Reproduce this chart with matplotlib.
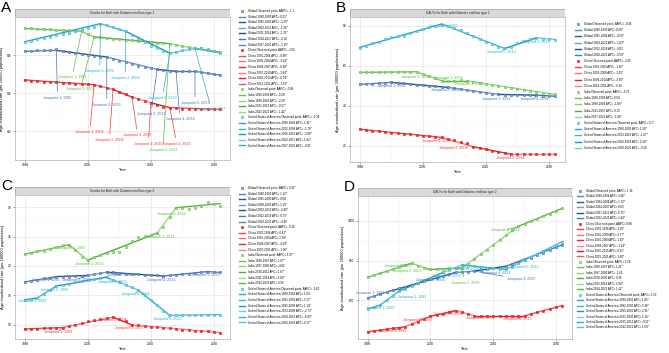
import matplotlib.pyplot as plt
from matplotlib.lines import Line2D
from matplotlib.patches import Rectangle
import numpy as np

plt.rcParams['font.family'] = ['Liberation Sans', 'DejaVu Sans']

W, H = 669, 353
years = np.arange(1990, 2022)

# ---------------- A: deaths, type 1 ----------------
a_global = [0.84,0.84,0.85,0.85,0.85,0.86,0.84,0.83,0.82,0.81,0.80,0.79,0.78,0.78,0.76,0.74,
            0.73,0.71,0.69,0.68,0.66,0.65,0.64,0.63,0.63,0.63,0.63,0.63,0.62,0.61,0.60,0.59]
a_china = [0.54,0.53,0.53,0.52,0.52,0.52,0.51,0.51,0.50,0.50,0.50,0.49,0.48,0.46,0.44,0.41,
           0.39,0.36,0.34,0.32,0.30,0.28,0.26,0.25,0.25,0.24,0.24,0.24,0.23,0.23,0.23,0.23]
a_india = [1.08,1.08,1.07,1.07,1.07,1.06,1.06,1.06,1.05,1.05,1.02,0.99,0.99,0.98,0.97,0.97,
           0.96,0.96,0.95,0.95,0.94,0.93,0.93,0.92,0.91,0.90,0.89,0.87,0.87,0.86,0.84,0.82]
a_usa = [0.94,0.95,0.97,0.98,0.99,1.01,1.02,1.03,1.05,1.07,1.08,1.10,1.13,1.12,1.10,1.07,
         1.05,1.01,0.97,0.94,0.90,0.87,0.84,0.82,0.83,0.85,0.86,0.88,0.87,0.85,0.84,0.83]
a_global_jp = [1990,1995,2003,2011,2014,2017,2021]
a_global_fit = [0.84,0.85,0.78,0.65,0.63,0.63,0.59]
a_china_jp = [1990,2001,2004,2007,2010,2013,2021]
a_china_fit = [0.54,0.49,0.44,0.36,0.30,0.25,0.23]
a_india_jp = [1990,1999,2001,2013,2021]
a_india_fit = [1.08,1.05,0.99,0.92,0.82]
a_usa_jp = [1990,2002,2006,2013,2017,2021]
a_usa_fit = [0.94,1.13,1.05,0.82,0.87,0.83]
a_leg = {
    'Global': ["Global Observed point, AAPC= -1.1", "Global 1990-1995 APC= 0.21*",
               "Global 1995-2003 APC= -1.20*", "Global 2003-2011 APC= -2.35*",
               "Global 2011-2014 APC= -1.31*", "Global 2014-2017 APC= -0.14",
               "Global 2017-2021 APC= -1.19*"],
    'China': ["China Observed point, AAPC= -2.92", "China 1990-2001 APC= -0.88*",
              "China 2001-2004 APC= -3.24*", "China 2004-2007 APC= -6.88*",
              "China 2007-2010 APC= -3.64*", "China 2010-2013 APC= -6.04*",
              "China 2013-2021 APC= -1.53*"],
    'India': ["India Observed point, AAPC= -0.86", "India 1990-1999 APC= -0.20",
              "India 1999-2001 APC= -2.29", "India 2001-2013 APC= -0.57*",
              "India 2013-2021 APC= -1.42*"],
    'USA': ["United States of America Observed point, AAPC= -0.39",
            "United States of America 1990-2002 APC= 1.41*",
            "United States of America 2002-2006 APC= -1.76*",
            "United States of America 2006-2013 APC= -3.08*",
            "United States of America 2013-2017 APC= 1.92*",
            "United States of America 2017-2021 APC= -0.85"]}
a_lab = {'Global': [(1995.2,0.355),(2003.0,0.28),(2010.0,0.18),(2014.6,0.13),(2017.0,0.30)],
         'China': [(2000.3,-0.01),(2003.4,-0.09),(2007.9,-0.04),(2009.6,-0.13),(2014.1,-0.13)],
         'India': [(1997.5,0.57),(1998.8,0.44),(2011.9,-0.19)],
         'USA': [(2001.9,0.63),(2006.0,0.56),(2011.8,0.35),(2019.6,0.23)]}

# ---------------- B: DALYs, type 1 ----------------
b_global = [50.7,50.9,51.1,51.3,51.5,51.7,51.4,51.2,50.9,50.6,50.4,50.1,49.9,49.6,49.2,48.8,
            48.3,47.9,47.5,47.1,46.5,46.1,45.7,45.6,45.6,45.5,45.5,45.4,45.3,45.1,44.9,44.8]
b_china = [28.3,27.9,27.6,27.3,26.9,26.6,26.3,26.0,25.7,25.4,25.1,24.8,24.5,24.2,23.5,22.8,
           22.0,21.2,19.6,19.0,18.3,17.6,17.0,16.4,15.8,15.8,15.7,15.7,15.7,15.7,15.7,15.7]
b_india = [56.7,56.7,56.8,56.8,56.8,56.9,56.9,57.0,56.9,57.0,56.0,55.0,53.8,52.5,52.6,52.6,
           52.7,52.6,52.0,51.5,51.0,50.5,50.0,49.5,48.9,48.4,47.9,47.4,46.9,46.5,46.1,45.7]
b_usa = [69.0,70.0,71.5,72.0,73.5,74.5,75.0,75.0,76.5,77.5,78.5,79.5,80.0,80.5,80.0,79.0,
         78.0,76.5,75.0,73.5,72.0,71.0,69.5,69.0,69.5,71.5,72.5,73.5,74.0,73.5,73.5,73.0]
b_global_jp = [1990,1995,2004,2012,2018,2021]
b_global_fit = [50.7,51.7,49.2,45.7,45.3,44.8]
b_china_jp = [1990,2003,2008,2014,2021]
b_china_fit = [28.3,24.2,19.5,15.8,15.7]
b_india_jp = [1990,1999,2003,2007,2021]
b_india_fit = [56.7,57.0,52.5,52.5,45.7]
b_usa_jp = [1990,2003,2013,2018,2021]
b_usa_fit = [69.2,80.9,68.6,74.0,73.2]
b_leg = {
    'Global': ["Global Observed point, AAPC= -0.45", "Global 1990-1995 APC= 0.30*",
               "Global 1995-2004 APC= -0.50*", "Global 2004-2012 APC= -1.03*",
               "Global 2012-2018 APC= -0.03", "Global 2018-2021 APC= -0.50*"],
    'China': ["China Observed point, AAPC= -1.95", "China 1990-2003 APC= -1.16*",
              "China 2003-2008 APC= -3.05*", "China 2008-2014 APC= -3.50*",
              "China 2014-2021 APC= -0.16"],
    'India': ["India Observed point, AAPC= -0.71", "India 1990-1999 APC= 0.04",
              "India 1999-2003 APC= -1.89*", "India 2003-2007 APC= 0.13",
              "India 2007-2021 APC= -1.06*"],
    'USA': ["United States of America Observed point, AAPC= 0.1*",
            "United States of America 1990-2003 APC= 1.20*",
            "United States of America 2003-2013 APC= -1.67*",
            "United States of America 2013-2018 APC= 1.50*",
            "United States of America 2018-2021 APC= -0.39"]}
b_lab = {'Global': [(1995.0,49.9),(2003.6,47.9),(2011.7,43.2),(2017.7,43.2)],
         'China': [(2002.2,22.4),(2004.8,18.7),(2013.8,13.9)],
         'India': [(1998.7,54.5),(2004.0,54.0),(2007.3,51.0)],
         'USA': [(2003.3,79.8),(2012.4,67.0),(2017.8,72.0)]}

# ---------------- C: deaths, type 2 ----------------
c_global = [17.3,17.5,17.7,17.9,18.0,18.2,18.2,18.2,18.3,18.3,18.4,18.6,18.8,18.95,18.9,18.8,
            18.7,18.6,18.6,18.5,18.4,18.4,18.3,18.4,18.5,18.6,18.7,18.8,18.9,19.05,19.0,18.9]
c_china = [9.3,9.3,9.35,9.4,9.45,9.5,9.55,9.8,10.0,10.3,10.6,10.8,11.0,11.2,11.3,11.0,
           10.6,10.0,9.9,9.8,9.7,9.6,9.5,9.4,9.3,9.2,9.1,9.0,8.95,8.9,8.8,8.7]
c_india = [22.0,22.2,22.6,22.5,22.9,23.2,23.6,23.6,22.8,21.6,21.0,21.5,21.8,22.2,22.3,22.3,
           23.2,24.3,25.0,25.1,25.3,25.6,26.7,28.3,29.9,29.8,29.6,29.8,30.2,30.9,30.6,30.2]
c_usa = [14.25,14.4,14.6,15.3,16.0,16.6,16.8,17.0,17.2,17.4,17.6,17.8,17.9,18.1,17.6,17.2,
         16.8,16.4,15.9,15.0,14.2,13.3,12.4,11.6,11.6,11.65,11.65,11.7,11.7,11.7,11.75,11.75]
c_global_jp = [1990,1995,2000,2003,2012,2019,2021]
c_global_fit = [17.3,18.2,18.4,18.95,18.3,19.05,18.9]
c_china_jp = [1990,1996,2004,2007,2021]
c_china_fit = [9.3,9.55,11.3,10.0,8.7]
c_india_jp = [1990,1997,2000,2011,2014,2021]
c_india_fit = [22.0,23.6,21.0,25.6,29.9,30.6]
c_usa_jp = [1990,1992,1995,2003,2008,2013,2021]
c_usa_fit = [14.25,14.6,16.6,18.1,15.9,11.6,11.75]
c_leg = {
    'Global': ["Global Observed point, AAPC= 0.31*", "Global 1990-1995 APC= 1.12*",
               "Global 1995-2000 APC= 0.04", "Global 2000-2003 APC= 1.19*",
               "Global 2003-2012 APC= -0.40*", "Global 2012-2019 APC= 0.73*",
               "Global 2019-2021 APC= -0.49"],
    'China': ["China Observed point, AAPC= -0.16", "China 1990-1996 APC= 0.61*",
              "China 1996-2004 APC= 2.38*", "China 2004-2007 APC= -4.09*",
              "China 2007-2021 APC= -1.06*"],
    'India': ["India Observed point, AAPC= 1.07*", "India 1990-1997 APC= 1.07*",
              "India 1997-2000 APC= -4.02", "India 2000-2011 APC= 1.67*",
              "India 2011-2014 APC= 6.60*", "India 2014-2021 APC= 0.56"],
    'USA': ["United States of America Observed point, AAPC= -0.62",
            "United States of America 1990-1992 APC= 1.60",
            "United States of America 1992-1995 APC= 5.17*",
            "United States of America 1995-2003 APC= 1.14*",
            "United States of America 2003-2008 APC= -2.73*",
            "United States of America 2008-2013 APC= -6.09*",
            "United States of America 2013-2021 APC= 0.17*"]}
c_lab = {'Global': [(1993.2,17.6),(1998.1,17.7),(2005.3,18.4),(2011.7,17.6),(2018.6,18.5)],
         'China': [(1995.3,8.85),(2003.9,10.85),(2006.6,9.45)],
         'India': [(1997.4,23.1),(2000.2,20.3),(2011.5,25.0),(2013.3,28.9)],
         'USA': [(1991.2,14.1),(1994.6,16.0),(2003.9,17.35),(2007.5,15.2),(2012.6,11.0)]}

# ---------------- D: DALYs, type 2 ----------------
d_global = [612,622,631,640,650,660,669,678,687,696,705,714,722,731,740,742,
            744,747,752,756,761,766,771,782,793,803,814,826,840,853,866,879]
d_china = [442,446,450,455,459,463,468,480,493,506,520,527,534,541,549,540,
           531,523,523,523,523,523,523,523,523,523,532,540,549,557,566,574]
d_india = [716,726,736,746,756,766,776,786,775,765,755,757,759,761,762,763,
           785,808,831,855,880,905,930,955,972,985,998,1011,1023,1036,1049,1062]
d_usa = [557,567,577,600,623,647,659,672,685,698,712,726,740,753,765,778,
         774,771,768,764,761,758,755,770,786,801,817,832,848,863,879,895]
d_global_jp = [1990,1994,2004,2007,2012,2021]
d_global_fit = [612,650,740,747,771,879]
d_china_jp = [1990,1996,2000,2004,2007,2015,2021]
d_china_fit = [442,468,520,549,523,523,574]
d_india_jp = [1990,1997,2000,2005,2014,2021]
d_india_fit = [716,786,755,763,972,1062]
d_usa_jp = [1990,1992,1995,2002,2005,2012,2021]
d_usa_fit = [557,577,647,740,778,755,895]
d_leg = {
    'Global': ["Global Observed point, AAPC= 1.16", "Global 1990-1994 APC= 1.06*",
               "Global 1994-2004 APC= 1.13*", "Global 2004-2007 APC= 0.65",
               "Global 2007-2012 APC= 0.75*", "Global 2012-2021 APC= 1.44*"],
    'China': ["China Observed point, AAPC= 0.88", "China 1990-1996 APC= 1.05*",
              "China 1996-2000 APC= 2.77*", "China 2000-2004 APC= 1.20*",
              "China 2004-2007 APC= -1.24*", "China 2007-2015 APC= 0.11*",
              "China 2015-2021 APC= 1.60*"],
    'India': ["India Observed point, AAPC= 1.29", "India 1990-1997 APC= 1.21*",
              "India 1997-2000 APC= -1.61", "India 2000-2005 APC= 0.36",
              "India 2005-2014 APC= 2.84*", "India 2014-2021 APC= 1.42*"],
    'USA': ["United States of America Observed point, AAPC= 1.53",
            "United States of America 1990-1992 APC= 1.85*",
            "United States of America 1992-1995 APC= 5.38*",
            "United States of America 1995-2002 APC= 2.31*",
            "United States of America 2002-2005 APC= 1.16*",
            "United States of America 2005-2012 APC= -0.51*",
            "United States of America 2012-2021 APC= 1.60*"]}
d_lab = {'Global': [(1990.4,639),(2000.0,700),(2014.5,705),(2010.5,735)],
         'China': [(1993.9,448),(1997.9,499),(2002.9,530),(2008.0,510),(2013.8,504)],
         'India': [(1994.9,774),(1996.3,747),(2005.5,688),(2012.0,953)],
         'USA': [(1992.0,561),(1997.1,619),(2002.5,722),(2006.0,758),(2014.9,766)]}

# colours
seg_cols = {'Global': ['#5B86C5', '#2A5298', '#7596CC', '#24508F', '#4A77BB', '#5A84C4'],
            'China': ['#F0463F', '#FF6B6B', '#E8262A', '#FF8080', '#E01E25', '#F25555'],
            'India': ['#6CC24A', '#8BD16A', '#4CAF3A', '#9BD88A', '#5BB840'],
            'USA': ['#21A9C8', '#3FB8D4', '#1597B8', '#6FCBE0', '#2BB0CC', '#52C0DA']}
pt_face = {'Global': '#8AA6D6', 'China': '#E8262A', 'India': '#A6DC8C', 'USA': '#95D6E8'}
pt_edge = {'Global': '#3D6AB0', 'China': '#D01F24', 'India': '#5DBB46', 'USA': '#2BB0CC'}
lab_col = {'Global': '#4A74B8', 'China': '#EE3B3B', 'India': '#5DBB46', 'USA': '#2BB0CC'}


def box(l, t, r, b):
    return [l / W, 1 - b / H, (r - l) / W, (b - t) / H]


def panel(fig, letter, ax_px, title, data, ylim, yticks, ytl, leg_xy, leg_sp):
    l, t, r, b = ax_px
    ax = fig.add_axes(box(l, t, r, b))
    st = fig.add_axes(box(l, t - 8, r, t))
    st.add_patch(Rectangle((0, 0), 1, 1, transform=st.transAxes, fc='#D9D9D9', ec='#9A9A9A', lw=0.5))
    st.set_axis_off()
    st.text(0.5, 0.5, title, ha='center', va='center', fontsize=2.3, color='#222222')
    fig.text((l - 14) / W, 1 - (t - 16) / H, letter, fontsize=11, va='top', ha='left')

    handles, labels = [], []
    for name in ['Global', 'China', 'India', 'USA']:
        obs, jp, fit, leg, lab = data[name]
        ax.plot(years, obs, 's', ms=2.0, mfc=pt_face[name], mec=pt_edge[name], mew=0.4, zorder=3)
        cols = seg_cols[name]
        handles.append(Line2D([], [], marker='s', ls='none', ms=2.0, mfc=pt_face[name],
                              mec=pt_edge[name], mew=0.4))
        for i in range(len(jp) - 1):
            ax.plot(jp[i:i + 2], fit[i:i + 2], '-', color=cols[i % len(cols)], lw=1.0, zorder=2)
            handles.append(Line2D([], [], color=cols[i % len(cols)], lw=1.0))
        labels += leg
        for k, (lx, ly) in enumerate(lab):
            ax.annotate('Joinpoint %d: %d' % (k + 1, jp[k + 1]), xy=(jp[k + 1], fit[k + 1]),
                        xytext=(lx, ly), fontsize=2.7, color=lab_col[name], ha='center', va='center',
                        arrowprops=dict(arrowstyle='-', color=lab_col[name], lw=0.5,
                                        shrinkA=1, shrinkB=0), zorder=4)

    ax.set_xlim(1988.45, 2022.55)
    ax.set_ylim(*ylim)
    ax.set_xticks([1990, 2000, 2010, 2020])
    ax.set_xticks([1995, 2005, 2015], minor=True)
    ax.set_yticks(yticks)
    ax.set_yticklabels(ytl)
    ax.set_yticks([(yticks[i] + yticks[i + 1]) / 2 for i in range(len(yticks) - 1)], minor=True)
    ax.grid(which='major', color='#E6E6E6', lw=0.5)
    ax.grid(which='minor', color='#F2F2F2', lw=0.3)
    ax.set_axisbelow(True)
    for s in ax.spines.values():
        s.set_color('#B0B0B0')
        s.set_linewidth(0.5)
    ax.tick_params(which='major', labelsize=2.3, length=1.5, width=0.4, color='#555555', pad=1.0)
    ax.tick_params(which='minor', length=0)
    ax.set_xlabel('Year', fontsize=2.8, labelpad=0.5)
    ax.set_ylabel('Age-standardized rate (per 100000 populations)', fontsize=2.9, labelpad=2)
    fig.legend(handles, labels, loc='upper left', bbox_to_anchor=(leg_xy[0] / W, 1 - leg_xy[1] / H),
               fontsize=2.1, frameon=False, handlelength=2.2, handletextpad=0.8,
               labelspacing=leg_sp, borderaxespad=0, borderpad=0)
    return ax


fig = plt.figure(figsize=(6.69, 3.53), dpi=100)

panel(fig, 'A', (15, 17, 230, 160), 'Deaths for Both with Diabetes mellitus type 1',
      {'Global': (a_global, a_global_jp, a_global_fit, a_leg['Global'], a_lab['Global']),
       'China': (a_china, a_china_jp, a_china_fit, a_leg['China'], a_lab['China']),
       'India': (a_india, a_india_jp, a_india_fit, a_leg['India'], a_lab['India']),
       'USA': (a_usa, a_usa_jp, a_usa_fit, a_leg['USA'], a_lab['USA'])},
      (-0.3, 1.2), [0.0, 0.4, 0.8], ['0.0', '0.4', '0.8'], (239, 9), 0.55)

panel(fig, 'B', (350, 17, 565, 162), 'DALYs for Both with Diabetes mellitus type 1',
      {'Global': (b_global, b_global_jp, b_global_fit, b_leg['Global'], b_lab['Global']),
       'China': (b_china, b_china_jp, b_china_fit, b_leg['China'], b_lab['China']),
       'India': (b_india, b_india_jp, b_india_fit, b_leg['India'], b_lab['India']),
       'USA': (b_usa, b_usa_jp, b_usa_fit, b_leg['USA'], b_lab['USA'])},
      (11.9, 84.4), [20, 40, 60, 80], ['20', '40', '60', '80'], (575, 22), 0.75)

panel(fig, 'C', (15, 195, 230, 339), 'Deaths for Both with Diabetes mellitus type 2',
      {'Global': (c_global, c_global_jp, c_global_fit, c_leg['Global'], c_lab['Global']),
       'China': (c_china, c_china_jp, c_china_fit, c_leg['China'], c_lab['China']),
       'India': (c_india, c_india_jp, c_india_fit, c_leg['India'], c_lab['India']),
       'USA': (c_usa, c_usa_jp, c_usa_fit, c_leg['USA'], c_lab['USA'])},
      (7.6, 32.06), [10, 15, 20, 25, 30], ['10', '15', '20', '25', '30'], (239, 186), 0.55)

panel(fig, 'D', (358, 196, 572, 339), 'DALYs for Both with Diabetes mellitus type 2',
      {'Global': (d_global, d_global_jp, d_global_fit, d_leg['Global'], d_lab['Global']),
       'China': (d_china, d_china_jp, d_china_fit, d_leg['China'], d_lab['China']),
       'India': (d_india, d_india_jp, d_india_fit, d_leg['India'], d_lab['India']),
       'USA': (d_usa, d_usa_jp, d_usa_fit, d_leg['USA'], d_lab['USA'])},
      (406, 1124), [600, 800, 1000], ['600', '800', '1000'], (577, 189), 0.5)

fig.savefig('out.png', dpi=100)
